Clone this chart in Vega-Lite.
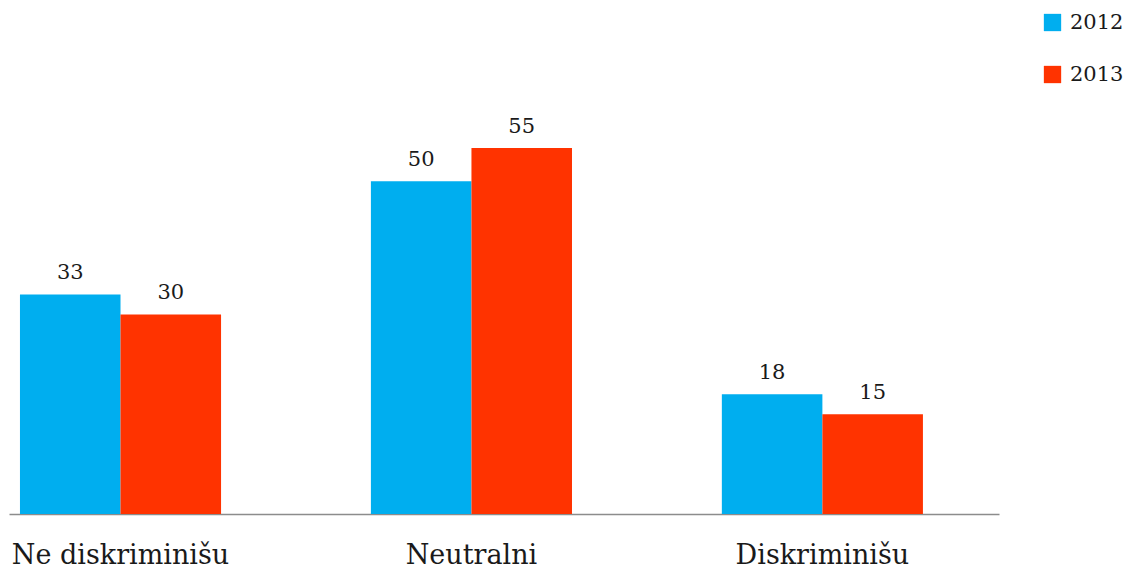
{
  "$schema": "https://vega.github.io/schema/vega-lite/v6.json",
  "width": 990,
  "height": 499,
  "autosize": "none",
  "padding": {"left": 9, "top": 15, "right": 134, "bottom": 57},
  "data": {
    "values": [
      {"kategorija": "Ne diskriminišu", "godina": "2012", "vrijednost": 33},
      {"kategorija": "Ne diskriminišu", "godina": "2013", "vrijednost": 30},
      {"kategorija": "Neutralni", "godina": "2012", "vrijednost": 50},
      {"kategorija": "Neutralni", "godina": "2013", "vrijednost": 55},
      {"kategorija": "Diskriminišu", "godina": "2012", "vrijednost": 18},
      {"kategorija": "Diskriminišu", "godina": "2013", "vrijednost": 15}
    ]
  },
  "encoding": {
    "x": {
      "field": "kategorija",
      "type": "nominal",
      "sort": ["Ne diskriminišu", "Neutralni", "Diskriminišu"],
      "scale": {"paddingInner": 0.427, "paddingOuter": 0.124, "align": 0.126},
      "axis": {
        "title": null,
        "labelAngle": 0,
        "labelLimit": 0,
        "ticks": false,
        "tickSize": 0,
        "labelBaseline": "alphabetic",
        "labelPadding": 49,
        "labelFont": "DejaVu Serif",
        "labelFontSize": 27,
        "labelColor": "#1a1a1a",
        "domainColor": "#8c8c8c",
        "domainWidth": 1.5
      }
    },
    "xOffset": {"field": "godina", "type": "nominal", "scale": {"paddingInner": 0, "paddingOuter": 0}},
    "y": {
      "field": "vrijednost",
      "type": "quantitative",
      "scale": {"domain": [0, 75], "nice": false},
      "axis": null
    }
  },
  "layer": [
    {
      "mark": {"type": "bar"},
      "encoding": {
        "color": {
          "field": "godina",
          "type": "nominal",
          "scale": {"domain": ["2012", "2013"], "range": ["#00aeef", "#ff3300"]},
          "legend": {
            "title": null,
            "orient": "none",
            "legendX": 1033,
            "legendY": -3,
            "padding": 0,
            "symbolType": "square",
            "symbolSize": 300,
            "symbolStrokeWidth": 0,
            "labelFont": "DejaVu Serif",
            "labelFontSize": 21,
            "labelColor": "#1a1a1a",
            "labelOffset": 7,
            "rowPadding": 30
          }
        }
      }
    },
    {
      "mark": {
        "type": "text",
        "baseline": "alphabetic",
        "dy": -15,
        "font": "DejaVu Serif",
        "fontSize": 21,
        "color": "#1a1a1a"
      },
      "encoding": {
        "text": {"field": "vrijednost", "type": "quantitative"}
      }
    }
  ],
  "config": {
    "view": {"stroke": null},
    "background": "white"
  }
}
